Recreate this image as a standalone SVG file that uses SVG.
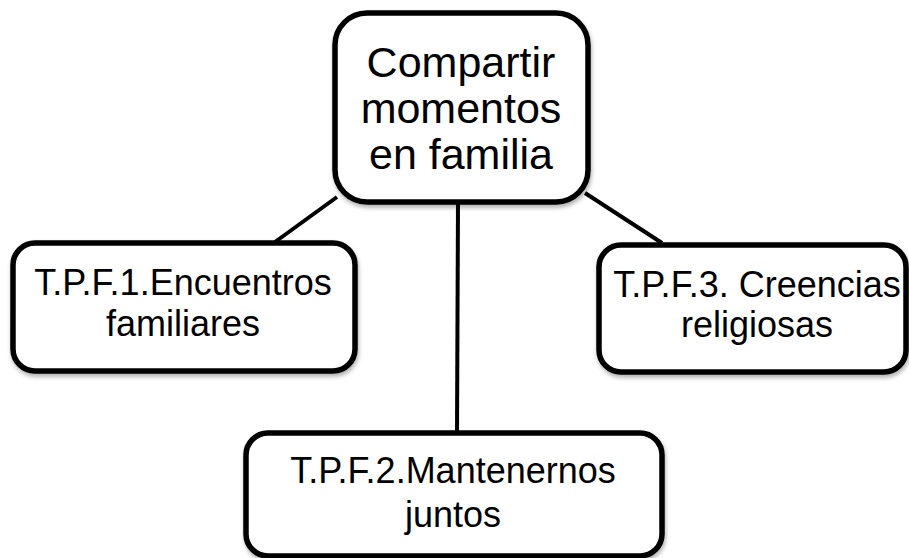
<svg xmlns="http://www.w3.org/2000/svg" width="909" height="558" viewBox="0 0 909 558">
<style>
.box{fill:#fff;stroke:#000;stroke-width:5.5}
.lbl{font-family:"Liberation Sans",Arial,sans-serif;fill:#000;text-anchor:middle}
.big{font-size:43px}
.sm{font-size:36px}
.conn line{stroke:#000;stroke-width:4}
</style>
<defs>
<filter id="sh" x="-10%" y="-10%" width="130%" height="130%">
<feDropShadow dx="1" dy="3" stdDeviation="2" flood-color="#000" flood-opacity="0.3"/>
</filter>
</defs>
<rect width="909" height="558" fill="#fff"/>
<g class="conn">
<line x1="337" y1="197" x2="275" y2="242"/>
<line x1="458" y1="202" x2="457" y2="433"/>
<line x1="585" y1="193" x2="662" y2="243"/>
</g>
<g id="n0">
<rect class="box" x="335" y="13" width="253" height="189" rx="32" filter="url(#sh)"/>
<text class="lbl big" x="461" y="77">Compartir</text>
<text class="lbl big" x="461" y="123">momentos</text>
<text class="lbl big" x="461" y="169">en familia</text>
</g>
<g id="n1">
<rect class="box" x="13" y="243" width="342" height="128" rx="22" filter="url(#sh)"/>
<text class="lbl sm" x="183" y="295">T.P.F.1.Encuentros</text>
<text class="lbl sm" x="183" y="336">familiares</text>
</g>
<g id="n2">
<rect class="box" x="246" y="433" width="416" height="123" rx="22" filter="url(#sh)"/>
<text class="lbl sm" x="453" y="483">T.P.F.2.Mantenernos</text>
<text class="lbl sm" x="453" y="527">juntos</text>
</g>
<g id="n3">
<rect class="box" x="599" y="245" width="307" height="127" rx="22" filter="url(#sh)"/>
<text class="lbl sm" x="757" y="297">T.P.F.3. Creencias</text>
<text class="lbl sm" x="757" y="337">religiosas</text>
</g>
</svg>
